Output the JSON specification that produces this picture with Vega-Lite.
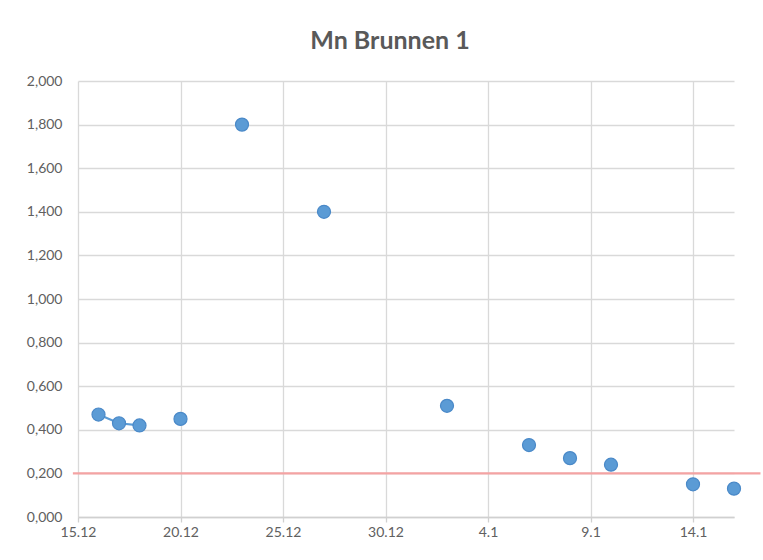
{
  "$schema": "https://vega.github.io/schema/vega-lite/v6.json",
  "autosize": "none",
  "width": 656,
  "height": 436,
  "padding": {"left": 78, "top": 81, "right": 29, "bottom": 43},
  "background": "white",
  "title": {
    "text": "Mn Brunnen 1",
    "font": "Lato",
    "fontSize": 25,
    "fontWeight": "bold",
    "color": "#595959",
    "anchor": "middle",
    "dx": -16,
    "offset": 20
  },
  "datasets": {
    "messung": [
      {"datum": "2016-12-16", "mn": 0.47},
      {"datum": "2016-12-17", "mn": 0.43},
      {"datum": "2016-12-18", "mn": 0.42},
      {"datum": "2016-12-19", "mn": null},
      {"datum": "2016-12-20", "mn": 0.45},
      {"datum": "2016-12-21", "mn": null},
      {"datum": "2016-12-23", "mn": 1.8},
      {"datum": "2016-12-24", "mn": null},
      {"datum": "2016-12-27", "mn": 1.4},
      {"datum": "2016-12-28", "mn": null},
      {"datum": "2017-01-02", "mn": 0.51},
      {"datum": "2017-01-03", "mn": null},
      {"datum": "2017-01-06", "mn": 0.33},
      {"datum": "2017-01-07", "mn": null},
      {"datum": "2017-01-08", "mn": 0.27},
      {"datum": "2017-01-09", "mn": null},
      {"datum": "2017-01-10", "mn": 0.24},
      {"datum": "2017-01-11", "mn": null},
      {"datum": "2017-01-14", "mn": 0.15},
      {"datum": "2017-01-15", "mn": null},
      {"datum": "2017-01-16", "mn": 0.13}
    ],
    "grenze": [
      {"von": "2016-12-14T18:00:00Z", "bis": "2017-01-17T07:00:00Z", "grenzwert": 0.2}
    ]
  },
  "layer": [
    {
      "data": {"name": "messung"},
      "mark": {"type": "line", "color": "#5B9BD5", "strokeWidth": 2.25, "invalid": "break-paths-filter-domains"},
      "encoding": {
        "x": {
          "field": "datum",
          "type": "temporal",
          "scale": {
            "type": "utc",
            "domain": [
              {"year": 2016, "month": 12, "date": 15, "utc": true},
              {"year": 2017, "month": 1, "date": 16, "utc": true}
            ]
          },
          "axis": {
            "title": null,
            "values": [
              {"year": 2016, "month": 12, "date": 15, "utc": true},
              {"year": 2016, "month": 12, "date": 20, "utc": true},
              {"year": 2016, "month": 12, "date": 25, "utc": true},
              {"year": 2016, "month": 12, "date": 30, "utc": true},
              {"year": 2017, "month": 1, "date": 4, "utc": true},
              {"year": 2017, "month": 1, "date": 9, "utc": true},
              {"year": 2017, "month": 1, "date": 14, "utc": true}
            ],
            "labelExpr": "utcFormat(datum.value, '%-d.%-m')",
            "grid": true,
            "gridColor": "#D9D9D9",
            "gridWidth": 1.3,
            "domainColor": "#D0D0D0",
            "domainWidth": 1.3,
            "ticks": true,
            "tickColor": "#D0D0D0",
            "tickSize": 5,
            "tickWidth": 1.3,
            "labelFont": "Lato",
            "labelFontSize": 14,
            "labelColor": "#606060",
            "labelPadding": 3,
            "labelFlush": false
          }
        },
        "y": {
          "field": "mn",
          "type": "quantitative",
          "scale": {"domain": [0, 2]},
          "axis": {
            "title": null,
            "values": [0, 0.2, 0.4, 0.6, 0.8, 1, 1.2, 1.4, 1.6, 1.8, 2],
            "labelExpr": "replace(format(datum.value, '.3f'), '.', ',')",
            "grid": true,
            "gridColor": "#D9D9D9",
            "gridWidth": 1.3,
            "domain": false,
            "ticks": false,
            "labelFont": "Lato",
            "labelFontSize": 14,
            "labelColor": "#606060",
            "labelPadding": 16
          }
        }
      }
    },
    {
      "data": {"name": "grenze"},
      "mark": {"type": "rule", "color": "#F4A3A3", "strokeWidth": 2.25, "clip": false},
      "encoding": {
        "x": {"field": "von", "type": "temporal"},
        "x2": {"field": "bis"},
        "y": {"field": "grenzwert", "type": "quantitative"}
      }
    },
    {
      "data": {"name": "messung"},
      "mark": {"type": "point", "filled": true, "size": 170, "color": "#5B9BD5", "stroke": "#4A89C8", "strokeWidth": 1.2, "opacity": 1, "clip": false},
      "encoding": {
        "x": {"field": "datum", "type": "temporal"},
        "y": {"field": "mn", "type": "quantitative"}
      }
    }
  ],
  "config": {
    "view": {"stroke": null}
  }
}
